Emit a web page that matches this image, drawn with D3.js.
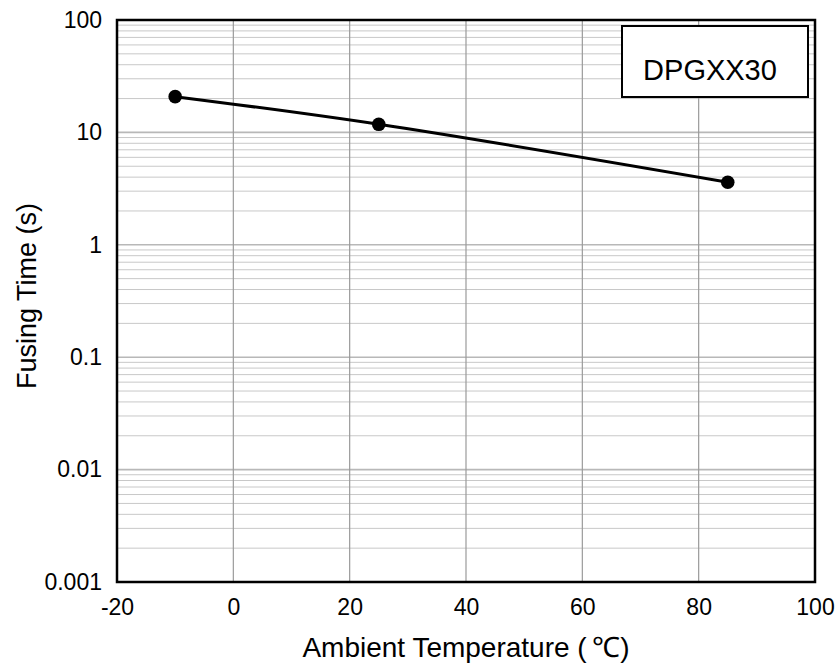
<!DOCTYPE html>
<html><head><meta charset="utf-8">
<script src="https://cdn.jsdelivr.net/npm/d3@7"></script>
<style>body{margin:0;background:#fff}svg{display:block}text{font-family:Arial,"Liberation Sans",sans-serif;fill:#000}</style>
</head><body><svg id="c" width="837" height="667"></svg>
<script>
const temps = [-10, 25, 85];
const times = [20.8, 11.8, 3.6];
const xTicks = [-20, 0, 20, 40, 60, 80, 100];
const yTicks = [0.001, 0.01, 0.1, 1, 10, 100];
const yTickLabels = ["0.001", "0.01", "0.1", "1", "10", "100"];
const seriesName = "DPGXX30";
const xTitle = "Ambient Temperature (\u2009\u2103)";
const yTitle = "Fusing Time (s)";

const L = 117, R = 815, T = 20, B = 582;
const FONT = "Arial, 'Liberation Sans', sans-serif";
const svg = d3.select("#c");
const x = d3.scaleLinear().domain([-20, 100]).range([L, R]);
const y = d3.scaleLog().domain([0.001, 100]).range([B, T]);

// minor horizontal grid
const minor = [];
for (let e = -3; e < 2; e++) for (let m = 2; m <= 9; m++) minor.push(m * Math.pow(10, e));
svg.append("g").selectAll("line").data(minor).join("line")
  .attr("x1", L).attr("x2", R).attr("y1", d => y(d)).attr("y2", d => y(d))
  .attr("stroke", "#c8c8c8").attr("stroke-width", 1);
svg.append("g").selectAll("line").data(yTicks.slice(1, -1)).join("line")
  .attr("x1", L).attr("x2", R).attr("y1", d => y(d)).attr("y2", d => y(d))
  .attr("stroke", "#b8b8b8").attr("stroke-width", 1.6);
svg.append("g").selectAll("line").data(xTicks.slice(1, -1)).join("line")
  .attr("y1", T).attr("y2", B).attr("x1", d => x(d)).attr("x2", d => x(d))
  .attr("stroke", "#9a9a9a").attr("stroke-width", 1.2);

// axes labels
const xa = svg.append("g").attr("transform", `translate(0,${B})`)
  .call(d3.axisBottom(x).tickValues(xTicks).tickFormat(d => String(d)).tickSize(0).tickPadding(0));
xa.select(".domain").remove();
xa.selectAll("text").attr("font-size", 23).attr("font-family", FONT).attr("dy", null).attr("y", 33);
const ya = svg.append("g").attr("transform", `translate(${L},0)`)
  .call(d3.axisLeft(y).tickValues(yTicks).tickFormat((d, i) => yTickLabels[i]).tickSize(0).tickPadding(15));
ya.select(".domain").remove();
ya.selectAll("text").attr("font-size", 23).attr("font-family", FONT);

// frame
svg.append("rect").attr("x", L).attr("y", T).attr("width", R - L).attr("height", B - T)
  .attr("fill", "none").attr("stroke", "#000").attr("stroke-width", 2.5);

// line
const pts = temps.map((t, i) => [t, times[i]]);
svg.append("path").datum(pts)
  .attr("d", d3.line().x(d => x(d[0])).y(d => y(d[1])).curve(d3.curveCatmullRom.alpha(0.5)))
  .attr("fill", "none").attr("stroke", "#000").attr("stroke-width", 3);
svg.append("g").selectAll("circle").data(pts).join("circle")
  .attr("cx", d => x(d[0])).attr("cy", d => y(d[1])).attr("r", 6.8).attr("fill", "#000");

// legend box
svg.append("rect").attr("x", 622).attr("y", 26).attr("width", 186).attr("height", 71)
  .attr("fill", "#fff").attr("stroke", "#000").attr("stroke-width", 2);
svg.append("text").attr("x", 710).attr("y", 80).attr("text-anchor", "middle")
  .attr("font-size", 29).text(seriesName);

// titles
svg.append("text").attr("x", (L + R) / 2).attr("y", 657).attr("text-anchor", "middle")
  .attr("font-size", 28).text(xTitle);
svg.append("text").attr("transform", `translate(36,296) rotate(-90)`)
  .attr("text-anchor", "middle").attr("font-size", 27).text(yTitle);
</script></body></html>
